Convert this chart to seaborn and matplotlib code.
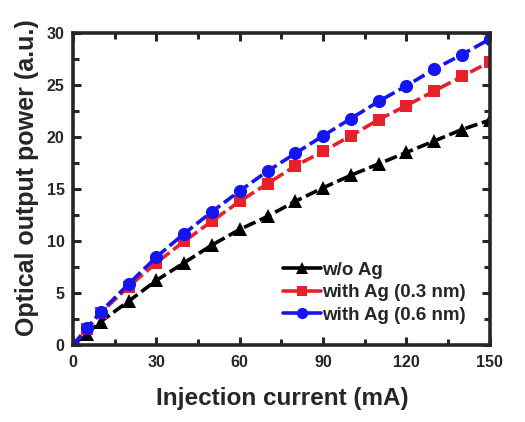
import numpy as np
import pandas as pd
import matplotlib
matplotlib.use("Agg")
import matplotlib.pyplot as plt
import seaborn as sns
from matplotlib.ticker import MultipleLocator
from matplotlib.lines import Line2D

current = [0, 5, 10, 20, 30, 40, 50, 60, 70, 80, 90, 100, 110, 120, 130, 140, 150]
wo_ag = [0, 1.1, 2.25, 4.2, 6.2, 7.9, 9.6, 11.1, 12.35, 13.8, 15.1, 16.3, 17.4, 18.5, 19.6, 20.7, 21.6]
ag_03 = [0, 1.5, 3.1, 5.6, 7.9, 9.95, 11.9, 13.8, 15.5, 17.2, 18.6, 20.1, 21.65, 23.0, 24.4, 25.8, 27.2]
ag_06 = [0, 1.6, 3.2, 5.85, 8.45, 10.7, 12.8, 14.8, 16.7, 18.4, 20.1, 21.75, 23.4, 24.9, 26.5, 27.9, 29.4]
labels = ["w/o Ag", "with Ag (0.3 nm)", "with Ag (0.6 nm)"]

df = pd.DataFrame({
    "current": current * 3,
    "power": wo_ag + ag_03 + ag_06,
    "series": [labels[0]] * len(current) + [labels[1]] * len(current) + [labels[2]] * len(current),
})

sns.set_theme(style="ticks")
plt.rcParams["font.family"] = ["Liberation Sans", "DejaVu Sans"]

fig = plt.figure(figsize=(5.25, 4.22), dpi=100)
ax = fig.add_axes([0.139, 0.1825, 0.794, 0.74])

colors = {labels[0]: "#000000", labels[1]: "#e8202a", labels[2]: "#1515f0"}
markers = {labels[0]: "^", labels[1]: "s", labels[2]: "o"}
msizes = {labels[0]: 10, labels[1]: 8.5, labels[2]: 9.5}

for lab in labels:
    sub = df[df["series"] == lab]
    sns.lineplot(data=sub, x="current", y="power", color=colors[lab],
                 marker=markers[lab], markersize=msizes[lab], markeredgewidth=0,
                 linewidth=2.6, linestyle="--", ax=ax, legend=False)
for ln in ax.lines:
    ln.set_dashes((3.5, 1.3))

ax.set_xlim(0, 150)
ax.set_ylim(0, 30)
ax.xaxis.set_major_locator(MultipleLocator(30))
ax.xaxis.set_minor_locator(MultipleLocator(15))
ax.yaxis.set_major_locator(MultipleLocator(5))
ax.yaxis.set_minor_locator(MultipleLocator(2.5))
ax.tick_params(which="both", direction="in", top=True, right=True, width=2.2)
ax.tick_params(which="major", length=6, labelsize=11.5)
ax.tick_params(axis="x", which="major", pad=7)
ax.tick_params(axis="y", which="major", pad=6)
ax.tick_params(which="minor", length=4)
for t in ax.get_xticklabels() + ax.get_yticklabels():
    t.set_fontweight("bold")
for s in ax.spines.values():
    s.set_linewidth(2.6)
    s.set_visible(True)

ax.set_xlabel("Injection current (mA)", fontsize=17.5, fontweight="bold")
ax.set_ylabel("Optical output power (a.u.)", fontsize=18, fontweight="bold")
ax.xaxis.set_label_coords(0.503, -0.135)
ax.yaxis.set_label_coords(-0.082, 0.535)

handles = [Line2D([], [], color=colors[l], marker=markers[l], linewidth=2.6,
                  markersize=msizes[l] * 0.85, markeredgewidth=0) for l in labels]
ax.legend(handles, labels, loc="lower left", bbox_to_anchor=(0.504, 0.067),
          borderaxespad=0, borderpad=0, frameon=False,
          prop={"size": 13.5, "weight": "bold"}, handlelength=2.0,
          handletextpad=0.1, labelspacing=0.3)

fig.savefig("out.png", dpi=100)
